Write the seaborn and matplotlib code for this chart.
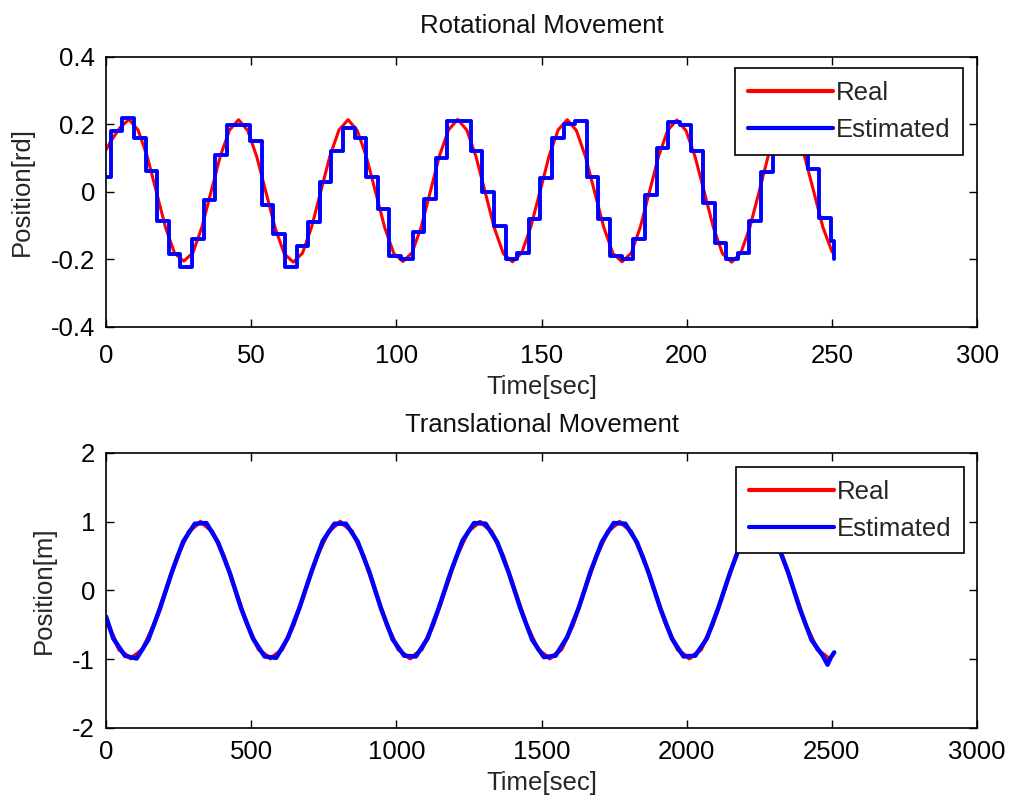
import matplotlib
matplotlib.use("Agg")
import matplotlib.pyplot as plt
import seaborn as sns

# ---------------- data ----------------
# Rotational movement: real signal
rot_real_t = [0.0, 1.61, 4.76, 7.9, 11.05, 14.19, 17.34, 20.48, 23.63, 26.77, 29.92,
              33.06, 36.21, 39.35, 42.5, 45.64, 48.79, 51.93, 55.08, 58.22, 61.37,
              64.51, 67.66, 70.8, 73.95, 77.09, 80.24, 83.38, 86.53, 89.67, 92.82,
              95.96, 99.11, 102.25, 105.4, 108.54, 111.69, 114.83, 117.98, 121.12, 124.27,
              127.41, 130.56, 133.7, 136.85, 139.99, 143.14, 146.28, 149.43, 152.57, 155.72,
              158.86, 162.01, 165.15, 168.3, 171.44, 174.59, 177.73, 180.88, 184.02, 187.17,
              190.31, 193.46, 196.6, 199.75, 202.89, 206.04, 209.18, 212.33, 215.47, 218.62,
              221.76, 224.91, 228.05, 231.2, 234.34, 237.49, 240.63, 243.78, 246.92, 250.07]
rot_real_v = [0.125, 0.15, 0.19, 0.215, 0.183, 0.105, 0.0, -0.105, -0.182, -0.205, -0.180,
              -0.103, 0.002, 0.106, 0.183, 0.214, 0.182, 0.104, -0.001, -0.106, -0.183,
              -0.208, -0.181, -0.104, 0.001, 0.106, 0.184, 0.214, 0.182, 0.104, 0.0,
              -0.105, -0.182, -0.206, -0.180, -0.104, 0.001, 0.107, 0.184, 0.215, 0.183,
              0.105, 0.0, -0.106, -0.183, -0.207, -0.181, -0.104, 0.0, 0.106, 0.184,
              0.214, 0.182, 0.104, -0.001, -0.105, -0.182, -0.207, -0.181, -0.104, 0.001,
              0.106, 0.183, 0.213, 0.182, 0.104, 0.0, -0.105, -0.183, -0.208, -0.181,
              -0.104, 0.0, 0.106, 0.184, 0.214, 0.182, 0.104, 0.0, -0.105, -0.178]

# Rotational movement: estimated (piecewise constant)
rot_est_t = [0.0, 1.6, 5.6, 9.6, 13.6, 17.6, 21.6, 25.6, 29.6, 33.6, 37.6, 41.6, 45.6,
             49.6, 53.6, 57.6, 61.6, 65.6, 69.6, 73.6, 77.6, 81.6, 85.6, 89.6, 93.6,
             97.6, 101.6, 105.6, 109.6, 113.6, 117.6, 121.6, 125.6, 129.6, 133.6, 137.6,
             141.6, 145.6, 149.6, 153.6, 157.6, 161.6, 165.6, 169.6, 173.6, 177.6, 181.6,
             185.6, 189.6, 193.6, 197.6, 201.6, 205.6, 209.6, 213.6, 217.6, 221.6, 225.6,
             229.6, 233.6, 237.6, 241.6, 245.6, 249.6, 250.8]
rot_est_v = [0.045, 0.18, 0.22, 0.16, 0.063, -0.087, -0.183, -0.222, -0.14, -0.024, 0.11,
             0.198, 0.198, 0.15, -0.04, -0.125, -0.222, -0.16, -0.09, 0.03, 0.12,
             0.19, 0.16, 0.045, -0.05, -0.19, -0.2, -0.12, -0.02, 0.1, 0.21,
             0.21, 0.12, 0.0, -0.1, -0.2, -0.18, -0.08, 0.04, 0.16, 0.2,
             0.21, 0.043, -0.08, -0.19, -0.2, -0.14, -0.01, 0.13, 0.207, 0.198,
             0.12, -0.034, -0.15, -0.2, -0.18, -0.087, 0.06, 0.17, 0.21, 0.15,
             0.068, -0.077, -0.145, -0.2]

# Translational movement: real signal
tr_real_t = [0.0, 5.0, 45.1, 85.2, 125.2, 165.3, 205.4, 245.5, 285.6, 325.6, 365.7, 405.8,
             445.9, 486.0, 526.0, 566.1, 606.2, 646.3, 686.4, 726.4, 766.5, 806.6, 846.7,
             886.8, 926.8, 966.9, 1007.0, 1047.1, 1087.2, 1127.2, 1167.3, 1207.4, 1247.5,
             1287.6, 1327.6, 1367.7, 1407.8, 1447.9, 1488.0, 1528.0, 1568.1, 1608.2, 1648.3,
             1688.4, 1728.4, 1768.5, 1808.6, 1848.7, 1888.8, 1928.8, 1968.9, 2009.0, 2049.1,
             2089.2, 2129.2, 2169.3, 2209.4, 2249.5, 2289.6, 2329.6, 2369.7, 2409.8, 2449.9,
             2490.0]
tr_real_v = [-0.42, -0.48, -0.86, -0.99, -0.86, -0.5, 0.0, 0.5, 0.86, 1.0, 0.86, 0.5,
             0.0, -0.5, -0.86, -0.99, -0.86, -0.5, 0.0, 0.5, 0.86, 1.0, 0.86,
             0.5, 0.0, -0.5, -0.86, -0.99, -0.86, -0.5, 0.0, 0.5, 0.86,
             1.0, 0.86, 0.5, 0.0, -0.5, -0.86, -0.99, -0.86, -0.5, 0.0,
             0.5, 0.86, 1.0, 0.86, 0.5, 0.0, -0.5, -0.86, -0.99, -0.86,
             -0.5, 0.0, 0.5, 0.86, 1.0, 0.86, 0.5, 0.0, -0.5, -0.86,
             -0.99]

# Translational movement: estimated
tr_est_t = [0.0, 25.0, 65.1, 105.2, 145.2, 185.3, 225.4, 265.5, 305.6, 345.6, 385.7, 425.8,
            465.9, 506.0, 546.0, 586.1, 626.2, 666.3, 706.4, 746.4, 786.5, 826.6, 866.7,
            906.8, 946.8, 986.9, 1027.0, 1067.1, 1107.2, 1147.2, 1187.3, 1227.4, 1267.5,
            1307.6, 1347.6, 1387.7, 1427.8, 1467.9, 1508.0, 1548.0, 1588.1, 1628.2, 1668.3,
            1708.4, 1748.4, 1788.5, 1828.6, 1868.7, 1908.8, 1948.8, 1988.9, 2029.0, 2069.1,
            2109.2, 2149.2, 2189.3, 2229.4, 2269.5, 2309.6, 2349.6, 2389.7, 2429.8, 2469.9,
            2485.0, 2497.0, 2508.0]
tr_est_v = [-0.38, -0.70, -0.95, -0.99, -0.72, -0.27, 0.25, 0.71, 0.97, 0.98, 0.70, 0.26,
            -0.27, -0.70, -0.96, -0.98, -0.69, -0.25, 0.26, 0.72, 0.97, 0.97, 0.71,
            0.27, -0.26, -0.71, -0.95, -0.96, -0.70, -0.24, 0.27, 0.72, 0.98,
            0.97, 0.70, 0.25, -0.27, -0.72, -0.97, -0.95, -0.68, -0.25, 0.27,
            0.71, 0.98, 0.97, 0.70, 0.26, -0.26, -0.70, -0.96, -0.95, -0.70,
            -0.25, 0.26, 0.71, 0.97, 0.97, 0.70, 0.26, -0.27, -0.72, -0.96,
            -1.08, -0.97, -0.90]

rot_xticks = [0, 50, 100, 150, 200, 250, 300]
rot_yticks = [-0.4, -0.2, 0, 0.2, 0.4]
rot_yticklabels = ["-0.4", "-0.2", "0", "0.2", "0.4"]
tr_xticks = [0, 500, 1000, 1500, 2000, 2500, 3000]
tr_yticks = [-2, -1, 0, 1, 2]
tr_yticklabels = ["-2", "-1", "0", "1", "2"]

# ---------------- style ----------------
sns.set_theme(style="ticks")
plt.rcParams['font.family'] = ['Liberation Sans', 'DejaVu Sans']
plt.rcParams['axes.edgecolor'] = 'black'
plt.rcParams['axes.linewidth'] = 1.2

FS = 18.5
RED = '#ff0000'
BLUE = '#0000ff'

fig = plt.figure(figsize=(10.1, 8.02), dpi=100)
ax1 = fig.add_axes([0.105, 0.5923, 0.8624, 0.3367])
ax2 = fig.add_axes([0.105, 0.0923, 0.8624, 0.343])

# top panel
sns.lineplot(x=rot_real_t, y=rot_real_v, ax=ax1, color=RED, lw=2.2,
             estimator=None, sort=False, label='Real')
sns.lineplot(x=rot_est_t, y=rot_est_v, ax=ax1, color=BLUE, lw=2.8,
             estimator=None, sort=False, drawstyle='steps-post', label='Estimated')

# bottom panel
sns.lineplot(x=tr_real_t, y=tr_real_v, ax=ax2, color=RED, lw=2.8,
             estimator=None, sort=False, label='Real')
sns.lineplot(x=tr_est_t, y=tr_est_v, ax=ax2, color=BLUE, lw=3.2,
             estimator=None, sort=False, label='Estimated')

def style(ax, title, ylabel, xlim, ylim, xt, yt, ytl, pad, xpad, leg_anchor):
    ax.set_xlim(*xlim)
    ax.set_ylim(*ylim)
    ax.set_xticks(xt)
    ax.set_xticklabels([str(v) for v in xt])
    ax.set_yticks(yt)
    ax.set_yticklabels(ytl)
    ax.tick_params(direction='in', top=True, right=True, length=6, width=1.0,
                   labelsize=FS, colors='black')
    ax.tick_params(axis='y', pad=8)
    ax.tick_params(axis='x', pad=xpad)
    for s in ax.spines.values():
        s.set_visible(True)
        s.set_color('black')
        s.set_linewidth(1.2)
    ax.set_title(title, fontsize=FS, pad=pad, color='#111111')
    ax.set_xlabel('Time[sec]', fontsize=FS, labelpad=5)
    ax.set_ylabel(ylabel, fontsize=FS, labelpad=12)
    ax.set_facecolor('white')
    leg = ax.legend(loc='upper right', bbox_to_anchor=leg_anchor, fontsize=FS,
                    frameon=True, fancybox=False, edgecolor='black', framealpha=1,
                    borderaxespad=0, handlelength=3.3, handletextpad=0.1,
                    borderpad=0.5, labelspacing=0.5)
    leg.get_frame().set_linewidth(1.2)
    for h in leg.get_lines():
        h.set_linewidth(3.0)
        h.set_drawstyle('default')

style(ax1, 'Rotational Movement', 'Position[rd]', (0, 300), (-0.4, 0.4),
      rot_xticks, rot_yticks, rot_yticklabels, 17, 12, (0.984, 0.959))
style(ax2, 'Translational Movement', 'Position[m]', (0, 3000), (-2, 2),
      tr_xticks, tr_yticks, tr_yticklabels, 15, 9, (0.985, 0.949))

fig.savefig('out.png', dpi=100, facecolor='white')
